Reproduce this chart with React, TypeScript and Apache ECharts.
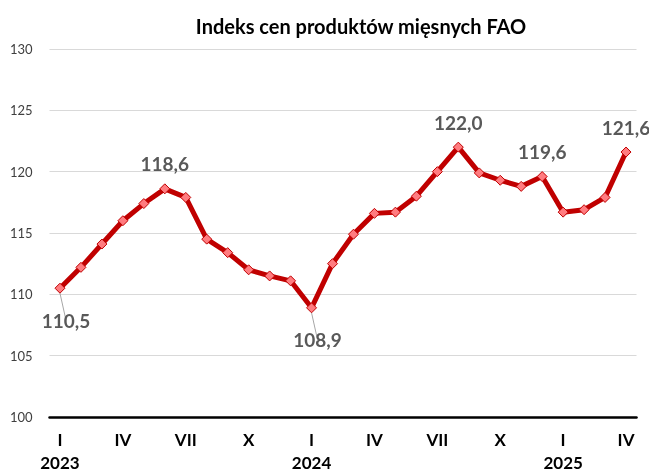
import React, { useEffect, useRef } from "react";
import * as echarts from "echarts";

const months = ["I", "II", "III", "IV", "V", "VI", "VII", "VIII", "IX", "X", "XI", "XII"];
const years = ["2023", "2024", "2025"];
const values = [
  110.5, 112.2, 114.1, 116.0, 117.4, 118.6, 117.9, 114.5, 113.4, 112.0, 111.5, 111.1,
  108.9, 112.5, 114.9, 116.6, 116.7, 118.0, 120.0, 122.0, 119.9, 119.3, 118.8, 119.6,
  116.7, 116.9, 117.9, 121.6,
];
const labelsAbove = [5, 19, 23, 27];
const labelsBelow = [0, 12];
const yTicks = { min: 100, max: 130, interval: 5 };

const categories = values.map((_, i) => months[i % 12] + "|" + years[Math.floor(i / 12)]);

const fmt = (v: number) => v.toFixed(1).replace(".", ",");

export default function App() {
  const ref = useRef<HTMLDivElement>(null);
  useEffect(() => {
    const chart = echarts.init(ref.current!, null, { renderer: "svg" });
    const font = "Lato, 'Noto Sans', sans-serif";
    const data = values.map((v, i) => {
      if (labelsAbove.includes(i)) {
        return { value: v, label: { show: true, position: "top", distance: 10 } };
      }
      if (labelsBelow.includes(i)) {
        return {
          value: v,
          label: { show: true, position: "bottom", distance: 17, offset: [6, 0] },
          labelLine: { show: true },
        };
      }
      return { value: v };
    });
    chart.setOption({
      animation: false,
      title: {
        text: "Indeks cen produktów mięsnych FAO",
        left: 356,
        top: 11,
        textAlign: "center",
        textStyle: { fontFamily: font, fontWeight: "bold", fontSize: 20, color: "#000" },
      },
      grid: { left: 49.5, right: 12.5, top: 49, bottom: 56, containLabel: false, outerBoundsMode: "none" },
      xAxis: {
        type: "category",
        data: categories,
        boundaryGap: true,
        axisLine: { show: true, lineStyle: { color: "#000", width: 2.5 } },
        axisTick: { show: false },
        axisLabel: {
          interval: 2,
          margin: 11,
          fontFamily: font,
          fontWeight: "bold",
          fontSize: 17,
          color: "#000",
          lineHeight: 23,
          formatter: (val: string) => {
            const [m, y] = val.split("|");
            return m === "I" ? m + "\n" + y : m;
          },
        },
      },
      yAxis: {
        type: "value",
        min: yTicks.min,
        max: yTicks.max,
        interval: yTicks.interval,
        axisLine: { show: false },
        axisTick: { show: false },
        splitLine: { lineStyle: { color: "#d9d9d9", width: 1 } },
        axisLabel: { fontFamily: font, fontSize: 13, color: "#404040", margin: 17 },
      },
      series: [
        {
          type: "line",
          data,
          symbol: "diamond",
          symbolSize: 10,
          lineStyle: { color: "#c00000", width: 5 },
          itemStyle: { color: "#ff7c80", borderColor: "#c00000", borderWidth: 1 },
          label: {
            show: false,
            formatter: (p: any) => fmt(p.value),
            fontFamily: font,
            fontWeight: "bold",
            fontSize: 19,
            color: "#595959",
          },
          labelLine: { show: false, lineStyle: { color: "#a6a6a6", width: 1 } },
        },
      ],
    });
    return () => chart.dispose();
  }, []);
  return <div ref={ref} style={{ position: "fixed", left: 0, top: 0, width: 649, height: 473 }} />;
}
